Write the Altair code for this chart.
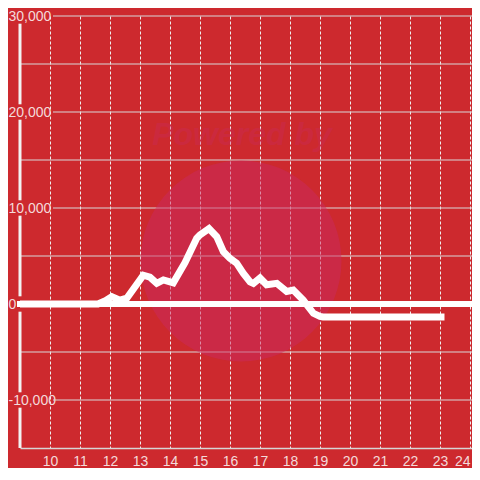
import altair as alt
import pandas as pd

# hour of day (decimal) and value
hours = [9.0, 11.6, 11.85, 12.06, 12.33, 12.56, 13.11, 13.33, 13.56, 13.78, 14.0, 14.11,
         14.5, 14.89, 15.0, 15.3, 15.56, 15.78, 16.0, 16.22, 16.44, 16.67, 16.78, 17.0,
         17.22, 17.56, 17.89, 18.11, 18.33, 18.44, 18.78, 19.0, 19.1, 23.15]
values = [0, 0, 350, 760, 400, 600, 3000, 2800, 2150, 2500, 2300, 2200,
          4300, 6850, 7200, 7850, 7000, 5450, 4750, 4250, 3200, 2300, 2150, 2700,
          2000, 2150, 1300, 1450, 760, 400, -970, -1300, -1350, -1350]

x_ticks = list(range(10, 25))
y_grid = list(range(-10000, 30001, 5000))
y_labels = [-10000, 0, 10000, 20000, 30000]

BG = "#cd292e"
LABEL = "#f4dada"
FONT = "Liberation Sans"

Y_MIN, Y_MAX = -15000, 30000
GAP = 800  # room left around each y label on the axis line

df = pd.DataFrame({"hour": hours, "value": values})
grid_df = pd.DataFrame({"g": y_grid})
# axis-line segments between the y labels
seg_lo = [Y_MIN] + [v + GAP for v in y_labels[:-1]]
seg_hi = [v - GAP for v in y_labels]
seg_df = pd.DataFrame({"lo": seg_lo, "hi": seg_hi})

xs = alt.Scale(domain=[9, 24.067], nice=False, zero=False)
ys = alt.Scale(domain=[Y_MIN, Y_MAX], nice=False, zero=False)

line = alt.Chart(df).mark_line(color="white", strokeWidth=7, clip=True, strokeJoin="miter").encode(
    x=alt.X("hour:Q", scale=xs, title=None,
            axis=alt.Axis(values=x_ticks, ticks=False, labelPadding=6, labelFontSize=14,
                          labelColor=LABEL, labelFont=FONT, domainColor="#d6d6d6", domainWidth=1.5,
                          grid=True, gridColor="#eeeeee", gridDash=[3, 2], gridWidth=1,
                          labelFlush=False,
                          labelAlign=alt.condition("datum.value == 24", alt.value("right"), alt.value("center")))),
    y=alt.Y("value:Q", scale=ys, title=None,
            axis=alt.Axis(values=y_labels, ticks=False, tickSize=0, labelAlign="left", labelPadding=12,
                          labelFontSize=14, labelColor=LABEL, labelFont=FONT,
                          labelExpr="(datum.value < 0 ? '-' : '') + format(abs(datum.value), ',')",
                          domain=False, grid=False)),
)

one = alt.Chart(pd.DataFrame({"k": [0]}))

circle = one.mark_circle(color="#c9295e", opacity=0.5).encode(
    x=alt.value(221), y=alt.value(245), size=alt.value(40400))

powered = one.mark_text(text="Powered by", font=FONT, fontSize=32, fontWeight="bold",
                        fontStyle="italic", color="#c9295e", opacity=0.35,
                        baseline="alphabetic", align="center").encode(
    x=alt.value(222), y=alt.value(129))

grid_plain = alt.Chart(grid_df).transform_filter("datum.g % 10000 != 0").mark_rule(
    color="#d8d8d8", strokeWidth=1).encode(
    y=alt.Y("g:Q", scale=ys), x=alt.value(0), x2=alt.value(452))

grid_lab = alt.Chart(grid_df).transform_filter("datum.g % 10000 == 0 && datum.g != 0").mark_rule(
    color="#d8d8d8", strokeWidth=1).encode(
    y=alt.Y("g:Q", scale=ys), x=alt.value(33), x2=alt.value(452))

yaxis = alt.Chart(seg_df).mark_rule(color="#f2f2f2", strokeWidth=3).encode(
    y=alt.Y("lo:Q", scale=ys), y2="hi:Q", x=alt.value(0))

zero = alt.Chart(pd.DataFrame({"z": [0]})).mark_rule(color="white", strokeWidth=6).encode(
    y=alt.Y("z:Q", scale=ys), x=alt.value(-3), x2=alt.value(452))

chart = alt.layer(grid_plain, grid_lab, circle, powered, yaxis, zero, line).properties(
    width=452, height=432,
    autosize=alt.AutoSizeParams(type="none"),
    padding={"left": 12, "top": 8, "right": 0, "bottom": 20},
    background=BG,
).configure_view(stroke=None)

chart.save("out.html", embed_options={"renderer": "svg", "actions": False})
